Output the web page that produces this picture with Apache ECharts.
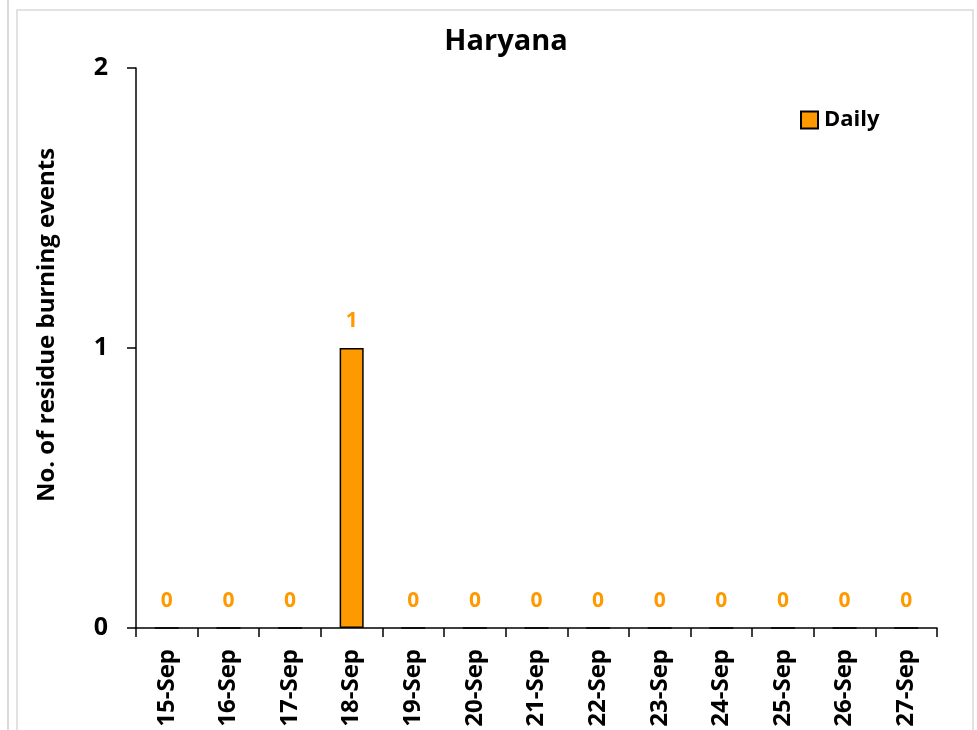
<!DOCTYPE html>
<html>
<head>
<meta charset="utf-8">
<script src="https://cdn.jsdelivr.net/npm/echarts@6/dist/echarts.min.js"></script>
<style>
html,body{margin:0;padding:0;background:#fff;}
#chart{width:977px;height:730px;}
</style>
</head>
<body>
<div id="chart"></div>
<script>
var categories = ['15-Sep','16-Sep','17-Sep','18-Sep','19-Sep','20-Sep','21-Sep','22-Sep','23-Sep','24-Sep','25-Sep','26-Sep','27-Sep'];
var dailyValues = [0,0,0,1,0,0,0,0,0,0,0,0,0];
var yTicks = [0,1,2];

var FONT = '"Open Sans", "Liberation Sans", sans-serif';
var chart = echarts.init(document.getElementById('chart'), null, {renderer:'canvas'});
chart.setOption({
  backgroundColor:'#ffffff',
  animation:false,
  textStyle:{fontFamily:FONT},
  graphic:[
    {type:'line', shape:{x1:8,y1:0,x2:8,y2:730}, style:{stroke:'#d9d9d9', lineWidth:2}},
    {type:'rect', shape:{x:17,y:10,width:956,height:740}, style:{fill:'none', stroke:'#d9d9d9', lineWidth:1.5}}
  ],
  title:{
    text:'Haryana', left:501, textAlign:'center', top:22,
    textStyle:{fontFamily:FONT, fontSize:29, fontWeight:'bold', color:'#000'}
  },
  legend:{
    left:800, top:109, padding:0, itemWidth:17, itemHeight:17, itemGap:5, icon:'rect',
    data:['Daily'],
    textStyle:{fontFamily:FONT, fontSize:22, fontWeight:'bold', color:'#000', padding:[0,0,0,1]}
  },
  grid:{left:136, top:68, right:40, bottom:102, containLabel:false},
  xAxis:{
    type:'category', data:categories, boundaryGap:true,
    axisLine:{lineStyle:{color:'#000', width:1.5}},
    axisTick:{show:true, length:9, lineStyle:{color:'#000', width:1.5}},
    axisLabel:{rotate:90, margin:21, fontFamily:FONT, fontSize:24, fontWeight:'bold', color:'#000', interval:0}
  },
  yAxis:{
    type:'value', min:yTicks[0], max:yTicks[yTicks.length-1], interval:1,
    name:'No. of residue burning events', nameLocation:'middle', nameGap:77,
    nameTextStyle:{fontFamily:FONT, fontSize:24, fontWeight:'bold', color:'#000', padding:[0,0,0,46]},
    axisLine:{show:true, lineStyle:{color:'#000', width:1.5}},
    axisTick:{show:true, length:9, lineStyle:{color:'#000', width:1.5}},
    axisLabel:{margin:28, fontFamily:FONT, fontSize:25, fontWeight:'bold', color:'#000'},
    splitLine:{show:false}
  },
  series:[{
    name:'Daily', type:'bar', data:dailyValues, barWidth:'39%',
    itemStyle:{color:'#FF9900', borderColor:'#000', borderWidth:1.5},
    label:{show:true, position:'top', distance:16, fontFamily:FONT, fontSize:21, fontWeight:'bold', color:'#FF9900'}
  }]
});
</script>
</body>
</html>
